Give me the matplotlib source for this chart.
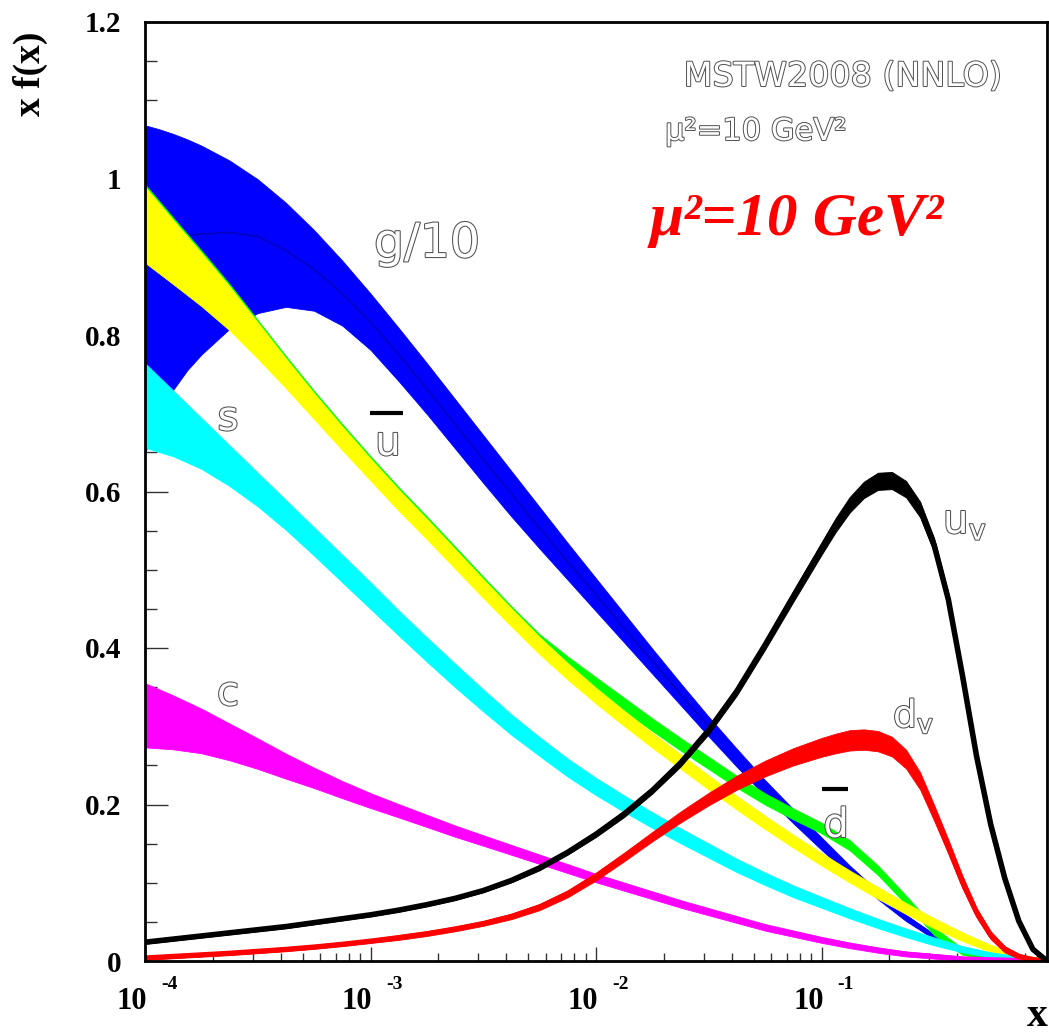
import numpy as np
import matplotlib
matplotlib.use("Agg")
import matplotlib.pyplot as plt
import matplotlib.patheffects as pe
import matplotlib.transforms as mtransforms
from matplotlib.ticker import FixedLocator, LogLocator, MultipleLocator, NullFormatter
from matplotlib.lines import Line2D

# ---------------------------------------------------------------------------
# x f(x) uncertainty bands at mu^2 = 10 GeV^2, sampled in log10(x)
# ---------------------------------------------------------------------------
# gluon (g/10): upper edge, lower edge and central value
lx_g = [-4, -3.9375, -3.875, -3.8125, -3.75, -3.625, -3.5, -3.375, -3.25, -3.125,
        -3, -2.875, -2.75, -2.625, -2.5, -2.375, -2.25, -2.125, -2, -1.875,
        -1.75, -1.625, -1.5, -1.375, -1.25, -1.125, -1, -0.875, -0.75, -0.625,
        -0.5, -0.375, -0.25, -0.125, 0]
g_hi = [1.068, 1.063, 1.057, 1.050, 1.042, 1.023, 0.999, 0.969, 0.934, 0.895,
        0.853, 0.809, 0.764, 0.718, 0.672, 0.626, 0.580, 0.534, 0.489, 0.444,
        0.399, 0.355, 0.312, 0.271, 0.231, 0.194, 0.158, 0.122, 0.089, 0.059,
        0.034, 0.016, 0.007, 0.002, 0.0]
g_lo = [0.649, 0.698, 0.730, 0.755, 0.775, 0.808, 0.828, 0.836, 0.831, 0.812,
        0.781, 0.741, 0.699, 0.655, 0.611, 0.568, 0.527, 0.487, 0.447, 0.407,
        0.367, 0.327, 0.287, 0.248, 0.211, 0.176, 0.142, 0.110, 0.079, 0.051,
        0.028, 0.012, 0.004, 0.001, 0.0]
g_mid = [0.915, 0.919, 0.923, 0.927, 0.929, 0.931, 0.926, 0.908, 0.884, 0.853,
         0.817, 0.775, 0.731, 0.686, 0.641, 0.597, 0.553, 0.510, 0.468, 0.425,
         0.383, 0.341, 0.299, 0.259, 0.221, 0.185, 0.150, 0.116, 0.084, 0.055,
         0.031, 0.014, 0.0055, 0.0015, 0.0]

# sea quarks: central value and half-width of the band
lx_sea = [-4, -3.875, -3.75, -3.625, -3.5, -3.375, -3.25, -3.125, -3, -2.875,
          -2.75, -2.625, -2.5, -2.375, -2.25, -2.125, -2, -1.875, -1.75, -1.625,
          -1.5, -1.375, -1.25, -1.125, -1, -0.875, -0.75, -0.625, -0.5, -0.375,
          -0.25, -0.125, 0]
ubar_c = [0.941, 0.906, 0.871, 0.834, 0.793, 0.751, 0.709, 0.668, 0.628, 0.589,
          0.552, 0.514, 0.476, 0.439, 0.403, 0.370, 0.339, 0.310, 0.282, 0.255,
          0.228, 0.202, 0.177, 0.153, 0.130, 0.108, 0.087, 0.067, 0.048, 0.031,
          0.016, 0.005, 0.0]
ubar_h = [0.0485, 0.041, 0.034, 0.028, 0.023, 0.019, 0.0165, 0.015, 0.014, 0.0135,
          0.013, 0.0125, 0.012, 0.0115, 0.011, 0.0105, 0.010, 0.0098, 0.0095, 0.0092,
          0.009, 0.0087, 0.0085, 0.0082, 0.008, 0.0077, 0.0075, 0.007, 0.0065, 0.0055,
          0.0045, 0.003, 0.0]
dbar_c = [0.944, 0.909, 0.874, 0.837, 0.796, 0.754, 0.712, 0.671, 0.631, 0.592,
          0.555, 0.517, 0.479, 0.442, 0.408, 0.380, 0.354, 0.328, 0.302, 0.277,
          0.253, 0.229, 0.207, 0.188, 0.170, 0.148, 0.116, 0.078, 0.038, 0.012,
          0.003, 0.001, 0.0]
dbar_h = [0.0485, 0.041, 0.034, 0.028, 0.023, 0.019, 0.0165, 0.015, 0.014, 0.0135,
          0.013, 0.0125, 0.012, 0.0112, 0.0095, 0.009, 0.0085, 0.0083, 0.008, 0.008,
          0.0078, 0.0075, 0.0072, 0.007, 0.0068, 0.0065, 0.006, 0.0055, 0.005, 0.004,
          0.002, 0.001, 0.0]
s_c = [0.710, 0.687, 0.6615, 0.633, 0.6025, 0.570, 0.536, 0.5015, 0.467, 0.432,
       0.398, 0.365, 0.333, 0.302, 0.274, 0.247, 0.223, 0.201, 0.180, 0.160,
       0.141, 0.122, 0.105, 0.089, 0.075, 0.061, 0.048, 0.036, 0.025, 0.015,
       0.008, 0.003, 0.0]
s_h = [0.054, 0.042, 0.0325, 0.026, 0.0215, 0.019, 0.018, 0.0175, 0.017, 0.016,
       0.0155, 0.015, 0.014, 0.013, 0.012, 0.0115, 0.011, 0.0105, 0.010, 0.0095,
       0.009, 0.0085, 0.008, 0.0075, 0.007, 0.0065, 0.006, 0.0055, 0.005, 0.004,
       0.003, 0.002, 0.0]
c_c = [0.314, 0.305, 0.294, 0.280, 0.265, 0.249, 0.234, 0.219, 0.205, 0.192,
       0.179, 0.166, 0.154, 0.142, 0.130, 0.118, 0.106, 0.095, 0.084, 0.073,
       0.063, 0.053, 0.043, 0.035, 0.027, 0.020, 0.014, 0.009, 0.006, 0.003,
       0.002, 0.001, 0.0]
c_h = [0.041, 0.0345, 0.0285, 0.0235, 0.0195, 0.016, 0.013, 0.011, 0.0095, 0.0085,
       0.0078, 0.0072, 0.0067, 0.0063, 0.006, 0.0057, 0.0054, 0.0052, 0.005, 0.0048,
       0.0046, 0.0044, 0.0042, 0.004, 0.0038, 0.0036, 0.0034, 0.0032, 0.003, 0.0025,
       0.002, 0.001, 0.0]

# valence quarks: central value and half-width of the band
lx_val = [-4, -3.875, -3.75, -3.625, -3.5, -3.375, -3.25, -3.125, -3, -2.875,
          -2.75, -2.625, -2.5, -2.375, -2.25, -2.125, -2, -1.875, -1.75, -1.625,
          -1.5, -1.375, -1.25, -1.125, -1, -0.9375, -0.875, -0.8125, -0.75,
          -0.6875, -0.625, -0.5625, -0.5, -0.4375, -0.375, -0.3125, -0.25,
          -0.1875, -0.125, -0.0625, 0]
uv_c = [0.024, 0.028, 0.032, 0.036, 0.040, 0.044, 0.049, 0.054, 0.059, 0.065,
        0.072, 0.080, 0.090, 0.103, 0.119, 0.139, 0.162, 0.188, 0.218, 0.253,
        0.295, 0.345, 0.404, 0.466, 0.527, 0.557, 0.583, 0.602, 0.613,
        0.614, 0.603, 0.577, 0.531, 0.462, 0.365, 0.262, 0.175,
        0.106, 0.051, 0.015, 0.0]
uv_h = [0.002, 0.002, 0.002, 0.002, 0.002, 0.002, 0.002, 0.002, 0.002, 0.002,
        0.002, 0.002, 0.002, 0.0025, 0.003, 0.003, 0.0035, 0.004, 0.004, 0.0045,
        0.005, 0.0055, 0.006, 0.007, 0.008, 0.009, 0.010, 0.0105, 0.011,
        0.011, 0.0105, 0.010, 0.009, 0.008, 0.007, 0.006, 0.005,
        0.004, 0.003, 0.002, 0.0]
dv_c = [0.004, 0.006, 0.008, 0.010, 0.0125, 0.015, 0.018, 0.0215, 0.0255, 0.030,
        0.035, 0.041, 0.048, 0.057, 0.069, 0.086, 0.108, 0.133, 0.159, 0.184,
        0.207, 0.228, 0.246, 0.261, 0.273, 0.278, 0.282, 0.283, 0.281,
        0.274, 0.258, 0.230, 0.189, 0.146, 0.101, 0.062, 0.033,
        0.015, 0.006, 0.002, 0.0]
dv_h = [0.0025, 0.0025, 0.0025, 0.0025, 0.0025, 0.0025, 0.0025, 0.0025, 0.0025, 0.003,
        0.003, 0.003, 0.003, 0.0035, 0.004, 0.0045, 0.005, 0.0055, 0.006, 0.007,
        0.008, 0.009, 0.010, 0.011, 0.012, 0.0125, 0.013, 0.013, 0.013,
        0.0125, 0.012, 0.011, 0.010, 0.009, 0.008, 0.006, 0.005,
        0.004, 0.003, 0.002, 0.0]

y_ticks = [0, 0.2, 0.4, 0.6, 0.8, 1.0, 1.2]
y_ticklabels = ["0", "0.2", "0.4", "0.6", "0.8", "1", "1.2"]
x_decades = [-4, -3, -2, -1]

# ---------------------------------------------------------------------------
W, H = 1049, 1036
fig = plt.figure(figsize=(W / 100, H / 100), dpi=100)
ax = fig.add_axes([145 / W, 1 - 961 / H, 902 / W, 939 / H])
ax.set_xscale("log")
ax.set_xlim(1e-4, 1.0)
ax.set_ylim(0, 1.2)


def band_edges(lx, lo, hi, mid, color, z, lw=3.3):
    x = 10.0 ** np.asarray(lx, dtype=float)
    ax.fill_between(x, lo, hi, facecolor=color, edgecolor=color,
                    linewidth=0.6, zorder=z)
    # the central curve keeps the band visible where it gets very narrow
    ax.plot(x, mid, color=color, lw=lw, solid_capstyle="butt",
            solid_joinstyle="round", zorder=z)


def band(lx, c, h, color, z, lw=3.3):
    c = np.asarray(c, dtype=float)
    h = np.asarray(h, dtype=float)
    band_edges(lx, c - h, c + h, c, color, z, lw)


band_edges(lx_g, g_lo, g_hi, g_mid, "#0000ff", 2)
n_dark = lx_g.index(-1.5) + 1
ax.plot(10.0 ** np.asarray(lx_g[:n_dark]), g_mid[:n_dark], color="#0000c0",
        lw=1.2, zorder=2.1)
band(lx_sea, dbar_c, dbar_h, "#00ff00", 3)
band(lx_sea, ubar_c, ubar_h, "#ffff00", 4)
band(lx_sea, s_c, s_h, "#00ffff", 5)
band(lx_sea, c_c, c_h, "#ff00ff", 6)
band(lx_val, dv_c, dv_h, "#ff0000", 7, lw=3.6)
band(lx_val, uv_c, uv_h, "#000000", 8, lw=4.0)

# ---------------------------------------------------------------------------
# axes frame and ticks
for sp in ax.spines.values():
    sp.set_linewidth(2.0)
    sp.set_zorder(20)

ax.yaxis.set_major_locator(FixedLocator(y_ticks))
ax.yaxis.set_minor_locator(MultipleLocator(0.05))
ax.set_yticklabels(y_ticklabels, fontfamily="Liberation Serif",
                   fontweight="bold", fontsize=21)
ax.xaxis.set_major_locator(FixedLocator([10.0 ** e for e in x_decades + [0]]))
ax.xaxis.set_minor_locator(LogLocator(base=10, subs=np.arange(2, 10)))
ax.xaxis.set_major_formatter(NullFormatter())
ax.xaxis.set_minor_formatter(NullFormatter())

ax.tick_params(axis="y", which="major", direction="in", length=16.5,
               width=1.0, color="#333333", pad=17, right=False)
ax.tick_params(axis="y", which="minor", direction="in", length=8.6,
               width=1.0, color="#333333", right=False)
ax.tick_params(axis="x", which="major", direction="in", length=10,
               width=1.0, color="#333333", top=False)
ax.tick_params(axis="x", which="minor", direction="in", length=5.8,
               width=1.0, color="#333333", top=False)

# decade labels 10^-n
base_tr = mtransforms.blended_transform_factory(ax.transData, ax.transAxes)
for e in x_decades:
    t10 = mtransforms.offset_copy(base_tr, fig=fig, x=2, y=-26, units="dots")
    ax.text(10.0 ** e, 0, "10", transform=t10, ha="right", va="top",
            fontfamily="Liberation Serif", fontweight="bold", fontsize=22,
            clip_on=False)
    tex = mtransforms.offset_copy(base_tr, fig=fig, x=16, y=-15, units="dots")
    ax.text(10.0 ** e, 0, "-%d" % abs(e), transform=tex, ha="left", va="top",
            fontfamily="Liberation Serif", fontweight="bold", fontsize=14,
            clip_on=False)

fig.text(30 / W, 1 - 74 / H, "x f(x)", rotation=90, ha="center", va="center",
         fontfamily="Liberation Serif", fontweight="bold", fontsize=27)
fig.text(1048 / W, 1 / H, "x", ha="right", va="bottom",
         fontfamily="Liberation Serif", fontweight="bold", fontsize=30)

# ---------------------------------------------------------------------------
# parton labels, drawn in the hollow outline style
hollow = [pe.withStroke(linewidth=1.5, foreground="#505050")]


def tag(xf, yf, s, size, ha="center"):
    ax.text(xf, yf, s, transform=ax.transAxes, ha=ha, va="baseline",
            fontsize=size, color="white", fontfamily="DejaVu Sans",
            path_effects=hollow, zorder=30)


tag(0.2539, 0.7497, "g/10", 34, ha="left")
tag(0.0920, 0.5655, "s", 29)
tag(0.2694, 0.5389, "u", 29)
tag(0.0920, 0.2726, "c", 29)
tag(0.8847, 0.4558, r"$\mathregular{u_{v}}$", 29, ha="left")
tag(0.8293, 0.2492, r"$\mathregular{d_{v}}$", 27, ha="left")
tag(0.7661, 0.1321, "d", 29)

for x0, x1, yb in [(0.2494, 0.2860, 0.5836), (0.7506, 0.7794, 0.1832)]:
    ax.add_line(Line2D([x0, x1], [yb, yb], transform=ax.transAxes,
                       color="black", lw=3.0, solid_capstyle="butt", zorder=30))

fig.text(843 / W, 1 - 86 / H, "MSTW2008 (NNLO)", ha="center", va="baseline",
         fontsize=24, color="white", fontfamily="DejaVu Sans",
         path_effects=[pe.withStroke(linewidth=1.4, foreground="#505050")])
fig.text(665 / W, 1 - 140 / H, "μ²=10 GeV²", ha="left", va="baseline",
         fontsize=22, color="white", fontfamily="DejaVu Sans",
         path_effects=[pe.withStroke(linewidth=1.4, foreground="#505050")])
fig.text(797 / W, 1 - 235 / H, "μ²=10 GeV²", ha="center", va="baseline",
         fontsize=44, color="#ff0000", fontfamily="Liberation Serif",
         fontweight="bold", fontstyle="italic")

fig.savefig("out.png", dpi=100)
